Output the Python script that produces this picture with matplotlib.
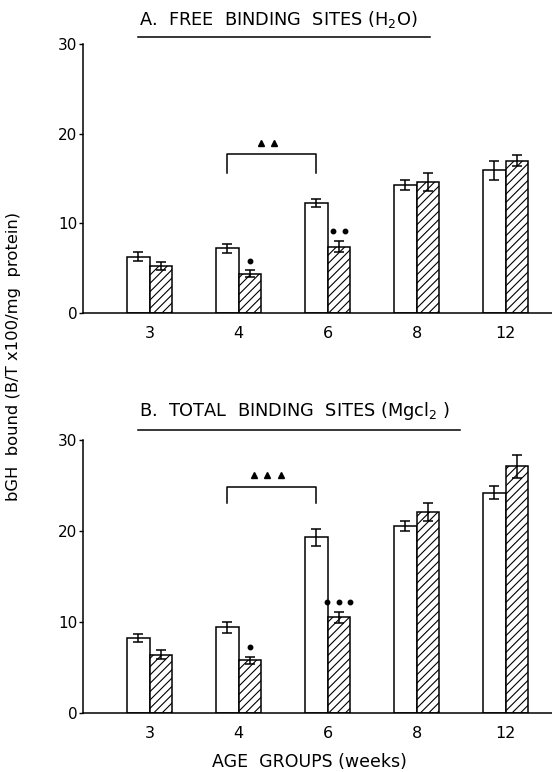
import numpy as np
import matplotlib
matplotlib.use("Agg")
import matplotlib.pyplot as plt
from matplotlib.lines import Line2D

plt.rcParams['font.family'] = 'DejaVu Sans'
plt.rcParams['hatch.linewidth'] = 0.8

groups = ['3', '4', '6', '8', '12']

# A. free binding sites (H2O)
free_ctrl = [6.3, 7.2, 12.3, 14.3, 15.9]
free_ctrl_err = [0.5, 0.5, 0.45, 0.55, 1.1]
free_trt = [5.2, 4.4, 7.4, 14.6, 17.0]
free_trt_err = [0.45, 0.35, 0.65, 1.0, 0.6]
free_sig = [0, 1, 2, 0, 0]
free_tri = 2

# B. total binding sites (MgCl2)
total_ctrl = [8.2, 9.4, 19.3, 20.5, 24.2]
total_ctrl_err = [0.45, 0.65, 0.9, 0.55, 0.7]
total_trt = [6.4, 5.8, 10.5, 22.1, 27.1]
total_trt_err = [0.5, 0.4, 0.6, 1.0, 1.3]
total_sig = [0, 1, 3, 0, 0]
total_tri = 3

W, H = 552, 772
fig = plt.figure(figsize=(W / 100, H / 100), dpi=100)

x = np.arange(len(groups))
bw = 0.253


def panel(ax, ctrl, ctrl_err, trt, trt_err, sig, ntri, br_top, br_bot, tri_y):
    ax.bar(x - bw / 2, ctrl, bw, color='white', edgecolor='black', linewidth=1.1)
    ax.bar(x + bw / 2, trt, bw, color='white', edgecolor='black', linewidth=1.1,
           hatch='////')
    ax.errorbar(x - bw / 2, ctrl, yerr=ctrl_err, fmt='none', ecolor='black',
                elinewidth=1.1, capsize=3.5, capthick=1.1)
    ax.errorbar(x + bw / 2, trt, yerr=trt_err, fmt='none', ecolor='black',
                elinewidth=1.1, capsize=3.5, capthick=1.1)
    # significance dots above treated bars
    for i, n in enumerate(sig):
        if n:
            xs = x[i] + bw / 2 + (np.arange(n) - (n - 1) / 2) * 0.13
            ax.plot(xs, [trt[i] + trt_err[i] + 1.1] * n, 'o', color='black',
                    markersize=3.2, clip_on=False)
    # bracket between week 4 and week 6 controls
    x0, x1 = x[1] - bw / 2, x[2] - bw / 2
    ax.plot([x0, x0, x1, x1], [br_bot, br_top, br_top, br_bot], color='black',
            linewidth=1.1)
    xt = (x0 + x1) / 2 - 0.05 + (np.arange(ntri) - (ntri - 1) / 2) * 0.15
    ax.plot(xt, [tri_y] * ntri, '^', color='black', markersize=4.5)

    ax.set_xlim(-0.747, 4.52)
    ax.set_ylim(0, 30)
    ax.set_yticks([0, 10, 20, 30])
    ax.set_xticks(x)
    ax.set_xticklabels(groups)
    ax.spines['top'].set_visible(False)
    ax.spines['right'].set_visible(False)
    ax.spines['left'].set_linewidth(1.1)
    ax.spines['bottom'].set_linewidth(1.1)
    ax.tick_params(axis='y', length=3, width=1.0, labelsize=11, pad=1)
    ax.tick_params(axis='x', length=0, labelsize=11.5, pad=9)


axA = fig.add_axes([83 / W, 1 - 313 / H, 469 / W, 269 / H])
panel(axA, free_ctrl, free_ctrl_err, free_trt, free_trt_err, free_sig, free_tri,
      17.7, 15.6, 19.0)
axB = fig.add_axes([83 / W, 1 - 713 / H, 469 / W, 273 / H])
panel(axB, total_ctrl, total_ctrl_err, total_trt, total_trt_err, total_sig, total_tri,
      24.8, 23.1, 26.2)

fig.text(139 / W, 1 - 19 / H, 'A.  FREE  BINDING  SITES (H$_2$O)', ha='left',
         va='center', fontsize=12.8)
fig.add_artist(Line2D([138 / W, 430 / W], [1 - 37 / H, 1 - 37 / H], color='black',
                      linewidth=1.1))
fig.text(139 / W, 1 - 411 / H, 'B.  TOTAL  BINDING  SITES (Mgcl$_2$ )', ha='left',
         va='center', fontsize=12.8)
fig.add_artist(Line2D([138 / W, 460 / W], [1 - 430 / H, 1 - 430 / H], color='black',
                      linewidth=1.1))

fig.text(14 / W, 1 - 356 / H, 'bGH  bound (B/T x100/mg  protein)', rotation=90,
         ha='center', va='center', fontsize=11.8)
fig.text(309 / W, 1 - 762 / H, 'AGE  GROUPS (weeks)', ha='center', va='center',
         fontsize=12.5)

fig.savefig('out.png', dpi=100)
